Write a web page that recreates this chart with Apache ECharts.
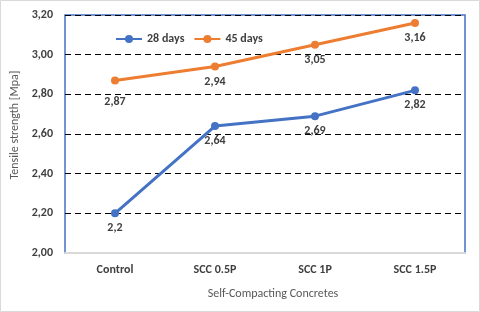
<!DOCTYPE html>
<html lang="en">
<head>
    <meta charset="UTF-8">
    <title>Tensile strength</title>
    <script type="text/javascript" src="https://cdn.jsdelivr.net/npm/echarts@6/dist/echarts.min.js"></script>
    <style>
        html, body { margin: 0; padding: 0; background: #fff; }
    </style>
</head>
<body>
    <div id="container" style="width:480px;height:312px"></div>

    <script type="text/javascript">
        var categories = ['Control', 'SCC 0.5P', 'SCC 1P', 'SCC 1.5P'];
        var days28 = [2.2, 2.64, 2.69, 2.82];
        var days45 = [2.87, 2.94, 3.05, 3.16];

        var font = 'Carlito, Lato, sans-serif';

        function comma(v) {
            return String(v).replace('.', ',');
        }

        function makeSeries(name, values, color) {
            return {
                name: name,
                type: 'line',
                data: values,
                symbol: 'circle',
                symbolSize: 8,
                lineStyle: { width: 3, color: color },
                itemStyle: { color: color },
                label: {
                    show: true,
                    position: 'bottom',
                    distance: 5,
                    color: '#404040',
                    fontWeight: 'bold',
                    fontSize: 12,
                    fontFamily: font,
                    formatter: function (p) { return comma(p.value); }
                },
                z: 3
            };
        }

        var dom = document.getElementById('container');
        var myChart = echarts.init(dom, null, { renderer: 'canvas' });

        var s45 = makeSeries('45 days', days45, '#ED7D31');
        // first orange label sits a little lower in the original
        s45.data = days45.map(function (v, i) {
            return i === 0 ? { value: v, label: { distance: 12 } } : v;
        });

        var option = {
            animation: false,
            backgroundColor: '#fff',
            graphic: [{
                type: 'rect',
                shape: { x: 0.5, y: 0.5, width: 479, height: 311 },
                style: { fill: null, stroke: '#d9d9d9', lineWidth: 1 },
                silent: true
            }],
            grid: {
                left: 65, right: 15, top: 15, bottom: 59,
                show: true,
                borderColor: '#4472C4',
                borderWidth: 1.5
            },
            legend: {
                left: 110, top: 28,
                itemGap: 9,
                itemWidth: 26, itemHeight: 10,
                textStyle: { color: '#404040', fontWeight: 'bold', fontSize: 12, fontFamily: font },
                data: ['28 days', '45 days']
            },
            xAxis: {
                type: 'category',
                data: categories,
                name: 'Self-Compacting Concretes',
                nameLocation: 'middle',
                nameGap: 35,
                nameTextStyle: { color: '#595959', fontSize: 12, fontFamily: font, padding: [0, 0, 0, 16] },
                axisLine: { lineStyle: { color: '#d9d9d9', width: 2 } },
                axisTick: { show: false },
                axisLabel: { color: '#404040', fontWeight: 'bold', fontSize: 12, fontFamily: font, margin: 11 }
            },
            yAxis: {
                type: 'value',
                min: 2.0, max: 3.2, interval: 0.2,
                name: 'Tensile strength [Mpa]',
                nameLocation: 'middle',
                nameGap: 42,
                nameTextStyle: { color: '#595959', fontSize: 12, fontFamily: font, padding: [0, 0, 0, 18] },
                axisLine: { show: false },
                axisTick: { show: false },
                axisLabel: {
                    color: '#404040', fontWeight: 'bold', fontSize: 12, fontFamily: font, margin: 12,
                    formatter: function (v) { return v.toFixed(2).replace('.', ','); }
                },
                splitLine: { lineStyle: { color: '#000', type: [6, 4], width: 1 } }
            },
            series: [
                makeSeries('28 days', days28, '#4472C4'),
                s45
            ]
        };

        myChart.setOption(option, true);
    </script>
</body>
</html>
